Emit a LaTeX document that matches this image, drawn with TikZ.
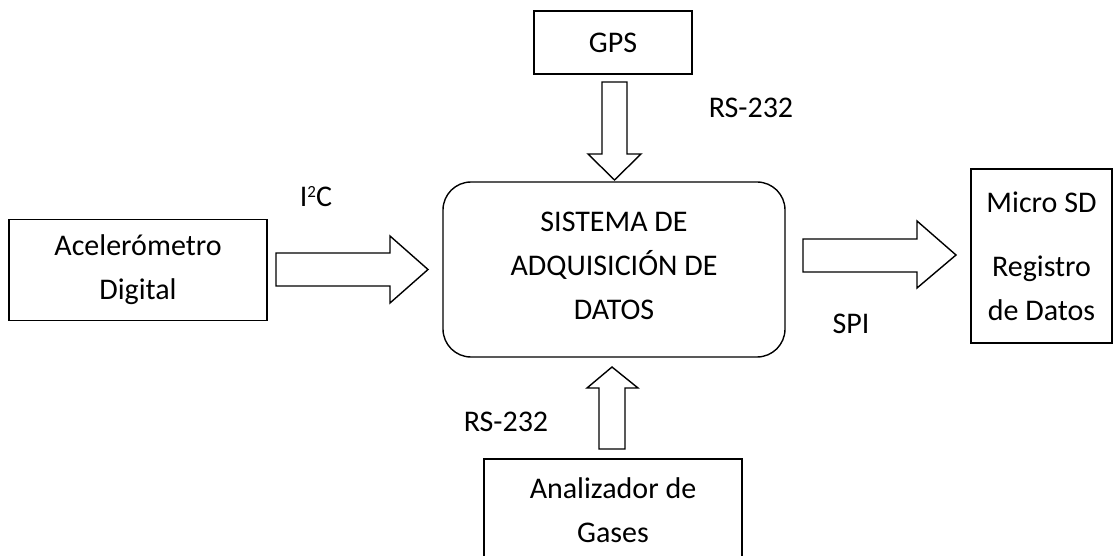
\documentclass[tikz,border=0pt]{standalone}
\usepackage{fontspec}
\setmainfont{Carlito}
\usetikzlibrary{calc}
\begin{document}
\begin{tikzpicture}[x=1pt,y=-1pt,
  box/.style={draw,line width=1.4pt,align=center,inner sep=0pt,font=\fontsize{30}{44}\selectfont},
  lbl/.style={inner sep=0pt,font=\fontsize{30}{44}\selectfont},
  barrow/.style={draw,line width=1.4pt,line join=miter,fill=white}]
\clip (0,0) rectangle (1117,556);
\fill[white] (0,0) rectangle (1117,556);
% blocks
\node[box,minimum width=158pt,minimum height=63pt] (gps) at (613,42.5) {GPS};
\node[box,minimum width=258pt,minimum height=101pt] (acc) at (138,270) {Acelerómetro\\Digital};
\node[box,rounded corners=28pt,minimum width=342pt,minimum height=175pt] (sis) at (614,269.5) {};
\node[align=center,inner sep=0pt,font=\fontsize{30}{44}\selectfont] (sistxt) at (614,266) {SISTEMA DE\\ADQUISICIÓN DE\\DATOS};
\node[box,minimum width=141pt,minimum height=174pt] (sd) at (1041.5,256) {Micro SD\\[20pt]Registro\\de Datos};
\node[box,minimum width=258pt,minimum height=103pt] (gas) at (613,510.5) {Analizador de\\Gases};
% block arrows
\coordinate (t1) at (428,269.5);
\draw[barrow] (276,253) -- (390,253) -- (390,236) -- (t1) -- (390,303) -- (390,286) -- (276,286) -- cycle;
\coordinate (t2) at (614.5,180);
\draw[barrow] (602,82) -- (602,154) -- (588,154) -- (t2) -- (641,154) -- (627,154) -- (627,82) -- cycle;
\coordinate (t3) at (956,255);
\draw[barrow] (803,239) -- (917,239) -- (917,221) -- (t3) -- (917,288) -- (917,272) -- (803,272) -- cycle;
\coordinate (t4) at (612,367);
\draw[barrow] (599,449) -- (599,388) -- (587,388) -- (t4) -- (638,388) -- (625,388) -- (625,449) -- cycle;
% labels
\node[lbl] (l1) at (316,197) {I\raisebox{9pt}{\fontsize{17}{17}\selectfont 2}C};
\node[lbl] (l2) at (751,108) {RS-232};
\node[lbl] (l3) at (506,422) {RS-232};
\node[lbl] (l4) at (851,324) {SPI};
\end{tikzpicture}
\end{document}
